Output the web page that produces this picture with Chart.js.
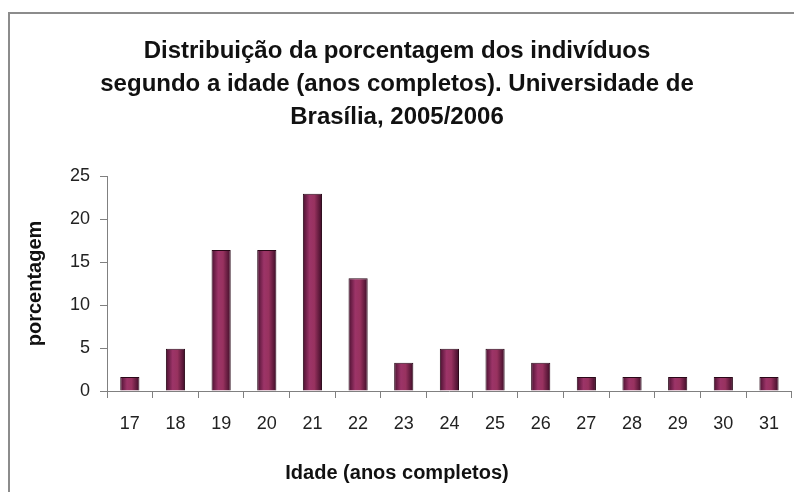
<!DOCTYPE html>
<html>
<head>
<meta charset="utf-8">
<script src="https://cdn.jsdelivr.net/npm/chart.js@4/dist/chart.umd.min.js"></script>
<style>
  html, body { margin: 0; padding: 0; background: #fff; }
  #wrap { position: relative; width: 794px; height: 492px; overflow: hidden; }
  #frame {
    position: absolute; left: 8px; top: 12px; width: 800px; height: 500px;
    border-left: 2px solid #8c8c8c; border-top: 2px solid #8c8c8c;
  }
  canvas { position: absolute; left: 0; top: 0; }
</style>
</head>
<body>
<div id="wrap">
  <div id="frame"></div>
  <canvas id="chart" width="794" height="492"></canvas>
</div>
<script>
// idades (anos completos) e porcentagens
const idades = ["17", "18", "19", "20", "21", "22", "23", "24", "25", "26", "27", "28", "29", "30", "31"];
const porcentagens = [1.64, 4.92, 16.39, 16.39, 22.95, 13.11, 3.28, 4.92, 4.92, 3.28, 1.64, 1.64, 1.64, 1.64, 1.64];
const yTicks = [0, 5, 10, 15, 20, 25];

const tituloLinhas = [
  "Distribuição da porcentagem dos indivíduos",
  "segundo a idade (anos completos). Universidade de",
  "Brasília, 2005/2006",
];
const tituloX = "Idade (anos completos)";
const tituloY = "porcentagem";

const BAR_PCT = 0.42;

// degradê horizontal em cada barra (bordas escuras, centro mais claro)
function barFill(ctx) {
  const chart = ctx.chart;
  const xs = chart.scales.x;
  if (!chart.chartArea || !xs || ctx.dataIndex === undefined) return "#8e2a5c";
  const cx = xs.getPixelForValue(ctx.dataIndex);
  const w = (xs.width / idades.length) * BAR_PCT;
  const g = chart.ctx.createLinearGradient(cx - w / 2, 0, cx + w / 2, 0);
  g.addColorStop(0, "#4a1030");
  g.addColorStop(0.35, "#9c3468");
  g.addColorStop(0.6, "#98325f");
  g.addColorStop(1, "#3d0c27");
  return g;
}

const font = "'Liberation Sans', Arial, sans-serif";

new Chart(document.getElementById("chart"), {
  type: "bar",
  data: {
    labels: idades,
    datasets: [{
      data: porcentagens,
      backgroundColor: barFill,
      borderColor: "#2a0818",
      borderWidth: 1,
      categoryPercentage: 1,
      barPercentage: BAR_PCT,
    }],
  },
  options: {
    responsive: false,
    animation: false,
    layout: { padding: 0 },
    plugins: {
      legend: { display: false },
      tooltip: { enabled: false },
      title: {
        display: true,
        text: tituloLinhas,
        color: "#111",
        font: { family: font, size: 24, weight: "bold", lineHeight: 33 / 24 },
        padding: { top: 35, bottom: 42 },
      },
      // título do eixo x, centrado na largura toda como no original
      subtitle: {
        display: true,
        position: "bottom",
        text: tituloX,
        color: "#111",
        font: { family: font, size: 20, weight: "bold", lineHeight: 1.2 },
        padding: { top: 0, bottom: 7 },
      },
    },
    scales: {
      x: {
        afterFit: (s) => { s.height = 70; },
        grid: { display: true, drawOnChartArea: false, drawTicks: true, tickLength: 7, color: "#808080", offset: true },
        border: { color: "#808080", width: 1 },
        ticks: { color: "#222", font: { family: font, size: 18 }, padding: 15, maxRotation: 0 },
      },
      y: {
        min: 0,
        max: 25,
        afterFit: (s) => { s.width = 107; },
        afterBuildTicks: (s) => { s.ticks = yTicks.map((v) => ({ value: v })); },
        grid: { display: true, drawOnChartArea: false, drawTicks: true, tickLength: 7, color: "#808080" },
        border: { color: "#808080", width: 1 },
        ticks: { color: "#222", font: { family: font, size: 18 }, padding: 10 },
        title: {
          display: true,
          text: tituloY,
          color: "#111",
          font: { family: font, size: 20, weight: "bold", lineHeight: 1.2 },
          padding: { top: 23, bottom: 0 },
        },
      },
    },
  },
});
</script>
</body>
</html>
